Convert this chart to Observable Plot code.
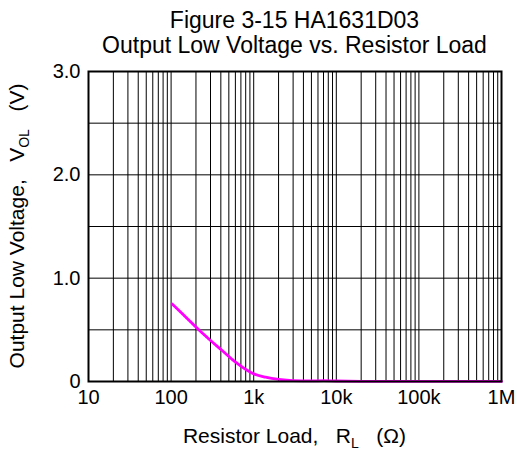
<!DOCTYPE html>
<html>
<head>
<meta charset="utf-8">
<script src="https://cdn.jsdelivr.net/npm/d3@7"></script>
<script src="https://cdn.jsdelivr.net/npm/@observablehq/plot@0.6"></script>
<style>
  html, body { margin: 0; padding: 0; background: #fff; }
  svg text { white-space: pre; }
</style>
</head>
<body>
<div id="chart"></div>
<script>
// Data
const resistance = [103, 150, 216, 300, 415, 603, 1000, 1390, 2010, 3000, 5000, 7000, 10000, 20000, 100000, 1000000];
const voltage    = [0.75, 0.625, 0.50, 0.397, 0.30, 0.187, 0.074, 0.042, 0.02, 0.008, 0.006, 0.008, 0.005, 0.002, 0.001, 0.001];

const xTickValues = [10, 100, 1000, 10000, 100000, 1000000];
const xTickLabels = ["10", "100", "1k", "10k", "100k", "1M"];
const yTickValues = [0, 1, 2, 3];
const yTickLabels = ["0", "1.0", "2.0", "3.0"];
const yGridValues = [0.5, 1, 1.5, 2, 2.5];
const titleLines = ["Figure 3-15 HA1631D03", "Output Low Voltage vs. Resistor Load"];

// vertical grid at 1..9 x each decade
const xGrid = [];
for (let d = 10; d < 1e6; d *= 10) for (let m = 1; m <= 9; m++) xGrid.push(d * m);

const W = 517, H = 451;
const mL = 88, mR = 16, mT = 71, mB = 70;
const font = "'Liberation Sans', Arial, sans-serif";

const svg = Plot.plot({
  width: W, height: H,
  marginLeft: mL, marginRight: mR, marginTop: mT, marginBottom: mB,
  x: {type: "log", domain: [10, 1e6], axis: null},
  y: {domain: [0, 3], axis: null},
  style: {fontFamily: font, fontSize: "20px", background: "white"},
  marks: [
    Plot.ruleX(xGrid, {x: d => d, stroke: "#000", strokeWidth: 1}),
    Plot.ruleY(yGridValues, {y: d => d, stroke: "#000", strokeWidth: 1}),
    Plot.line(resistance.map((r, i) => ({r, v: voltage[i]})), {x: "r", y: "v", stroke: "#ff00ff", strokeWidth: 2.8, curve: "monotone-x"}),
    Plot.frame({stroke: "#000", strokeWidth: 2}),
    Plot.text(xTickValues, {x: d => d, text: (d, i) => xTickLabels[i], frameAnchor: "bottom", dy: 22, fontSize: 20, fill: "#000"}),
    Plot.text(yTickValues, {y: d => d, text: (d, i) => yTickLabels[i], frameAnchor: "left", dx: -8, textAnchor: "end", fontSize: 20, fill: "#000"})
  ]
});
document.getElementById("chart").appendChild(svg);

const s = d3.select(svg);
const cx = mL + (W - mL - mR) / 2;

s.append("text").attr("x", cx).attr("y", 28).attr("text-anchor", "middle")
  .attr("font-size", 23).attr("font-family", font).attr("fill", "#000").text(titleLines[0]);
s.append("text").attr("x", cx).attr("y", 53).attr("text-anchor", "middle")
  .attr("font-size", 23).attr("font-family", font).attr("fill", "#000").text(titleLines[1]);

// x label
const xl = s.append("text").attr("x", cx).attr("y", 443).attr("text-anchor", "middle")
  .attr("font-size", 21).attr("font-family", font).attr("fill", "#000");
xl.append("tspan").text("Resistor Load,   R");
xl.append("tspan").attr("font-size", 14).attr("dy", 5).text("L");
xl.append("tspan").attr("dy", -5).text("   (Ω)");

// y label
const yl = s.append("text").attr("transform", `translate(23.5,${mT + (H - mT - mB) / 2}) rotate(-90)`)
  .attr("text-anchor", "middle").attr("font-size", 21).attr("font-family", font).attr("fill", "#000");
yl.append("tspan").text("Output Low Voltage,   V");
yl.append("tspan").attr("font-size", 14).attr("dy", 5).text("OL");
yl.append("tspan").attr("dy", -5).text("   (V)");
</script>
</body>
</html>
